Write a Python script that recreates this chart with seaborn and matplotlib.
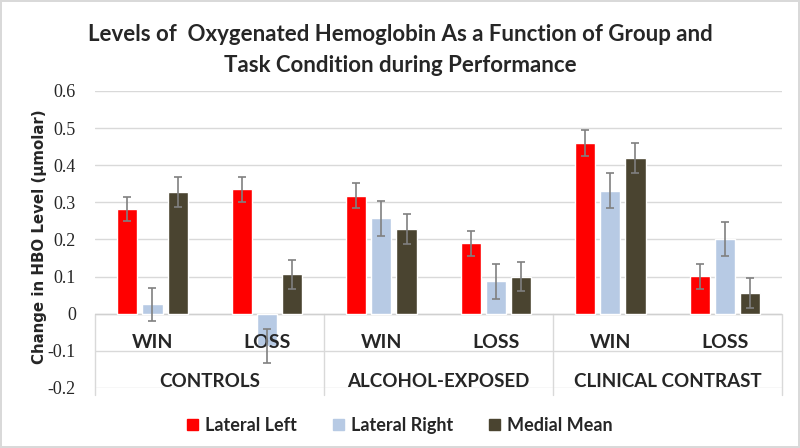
import pandas as pd
import matplotlib.pyplot as plt
import seaborn as sns

# values
groups = ['CONTROLS', 'ALCOHOL-EXPOSED', 'CLINICAL CONTRAST']
conditions = ['WIN', 'LOSS']
series = ['Lateral Left', 'Lateral Right', 'Medial Mean']
lateral_left = [0.282, 0.335, 0.318, 0.19, 0.46, 0.101]
lateral_right = [0.025, -0.088, 0.257, 0.087, 0.331, 0.201]
medial_mean = [0.328, 0.106, 0.229, 0.099, 0.42, 0.056]
err_left = [0.033, 0.033, 0.033, 0.034, 0.034, 0.034]
err_right = [0.045, 0.046, 0.047, 0.047, 0.047, 0.046]
err_medial = [0.04, 0.04, 0.04, 0.039, 0.04, 0.04]
yticks = [-0.2, -0.1, 0, 0.1, 0.2, 0.3, 0.4, 0.5, 0.6]
colors = ['#FF0000', '#B7CAE4', '#4A4430']

slots = [g + ' ' + c for g in groups for c in conditions]
rows = []
for name, vals in zip(series, [lateral_left, lateral_right, medial_mean]):
    for slot, v in zip(slots, vals):
        rows.append({'slot': slot, 'series': name, 'value': v})
df = pd.DataFrame(rows)

sns.set_style('white')
plt.rcParams['font.family'] = ['Lato', 'DejaVu Sans']
plt.rcParams['font.serif'] = ['Liberation Serif', 'DejaVu Serif']

fig = plt.figure(figsize=(8, 4.48), dpi=100)
fig.patch.set_edgecolor('#D9D9D9')
fig.patch.set_linewidth(1.5)
ax = fig.add_axes([0.119, 0.134, 0.8585, 0.663])

sns.barplot(data=df, x='slot', y='value', hue='series', order=slots,
            hue_order=series, palette=colors, saturation=1, width=0.66, gap=0.2,
            errorbar=None, ax=ax, zorder=3, legend=False)

# error bars on top of the bars
for cont, vals, errs in zip(ax.containers, [lateral_left, lateral_right, medial_mean],
                            [err_left, err_right, err_medial]):
    xs = [p.get_x() + p.get_width() / 2 for p in cont.patches]
    ax.errorbar(xs, vals, yerr=errs, fmt='none', ecolor='#808080',
                elinewidth=1.2, capsize=3, capthick=1.2, zorder=6)

ax.set_ylim(-0.2, 0.6)
ax.set_xlim(-0.5, len(slots) - 0.5)
ax.set_yticks(yticks)
ax.set_yticklabels([f'{t:g}' for t in yticks])
ax.tick_params(axis='y', length=0, pad=14, labelsize=13, labelfontfamily='serif')
ax.set_xticks([])
ax.set_xlabel('')
ax.grid(axis='y', color='#D9D9D9', linewidth=1, zorder=0)
for s in ax.spines.values():
    s.set_visible(False)
ax.axhline(0, color='#D0D0D0', linewidth=1, zorder=2)

# two-level category axis
for i, slot in enumerate(slots):
    ax.text(i, -0.078, conditions[i % 2], ha='center', va='center',
            fontsize=14, fontweight='bold', zorder=5)
for k, g in enumerate(groups):
    ax.text(2 * k + 0.5, -0.183, g, ha='center', va='center',
            fontsize=13.5, fontweight='bold')
for b in [-0.5, 1.5, 3.5, 5.5]:
    ax.plot([b, b], [0, -0.22], color='#D9D9D9', linewidth=1, clip_on=False, zorder=1)

ax.set_ylabel('Change in HBO Level (μmolar)', fontfamily='DejaVu Sans',
              fontweight='bold', fontsize=10.8)
ax.yaxis.set_label_coords(-0.07, 0.51)

fig.suptitle('Levels of  Oxygenated Hemoglobin As a Function of Group and\nTask Condition during Performance',
             fontsize=16, fontweight='bold', y=0.947, linespacing=1.6)

handles = [plt.Rectangle((0, 0), 1, 1, color=c) for c in colors]
fig.legend(handles, series, loc='center', bbox_to_anchor=(0.5, 0.051), ncol=3,
           frameon=False, prop={'weight': 'bold', 'size': 13}, handlelength=0.6,
           handleheight=0.6, columnspacing=2.0, handletextpad=0.4)

fig.savefig('out.png', dpi=100)
